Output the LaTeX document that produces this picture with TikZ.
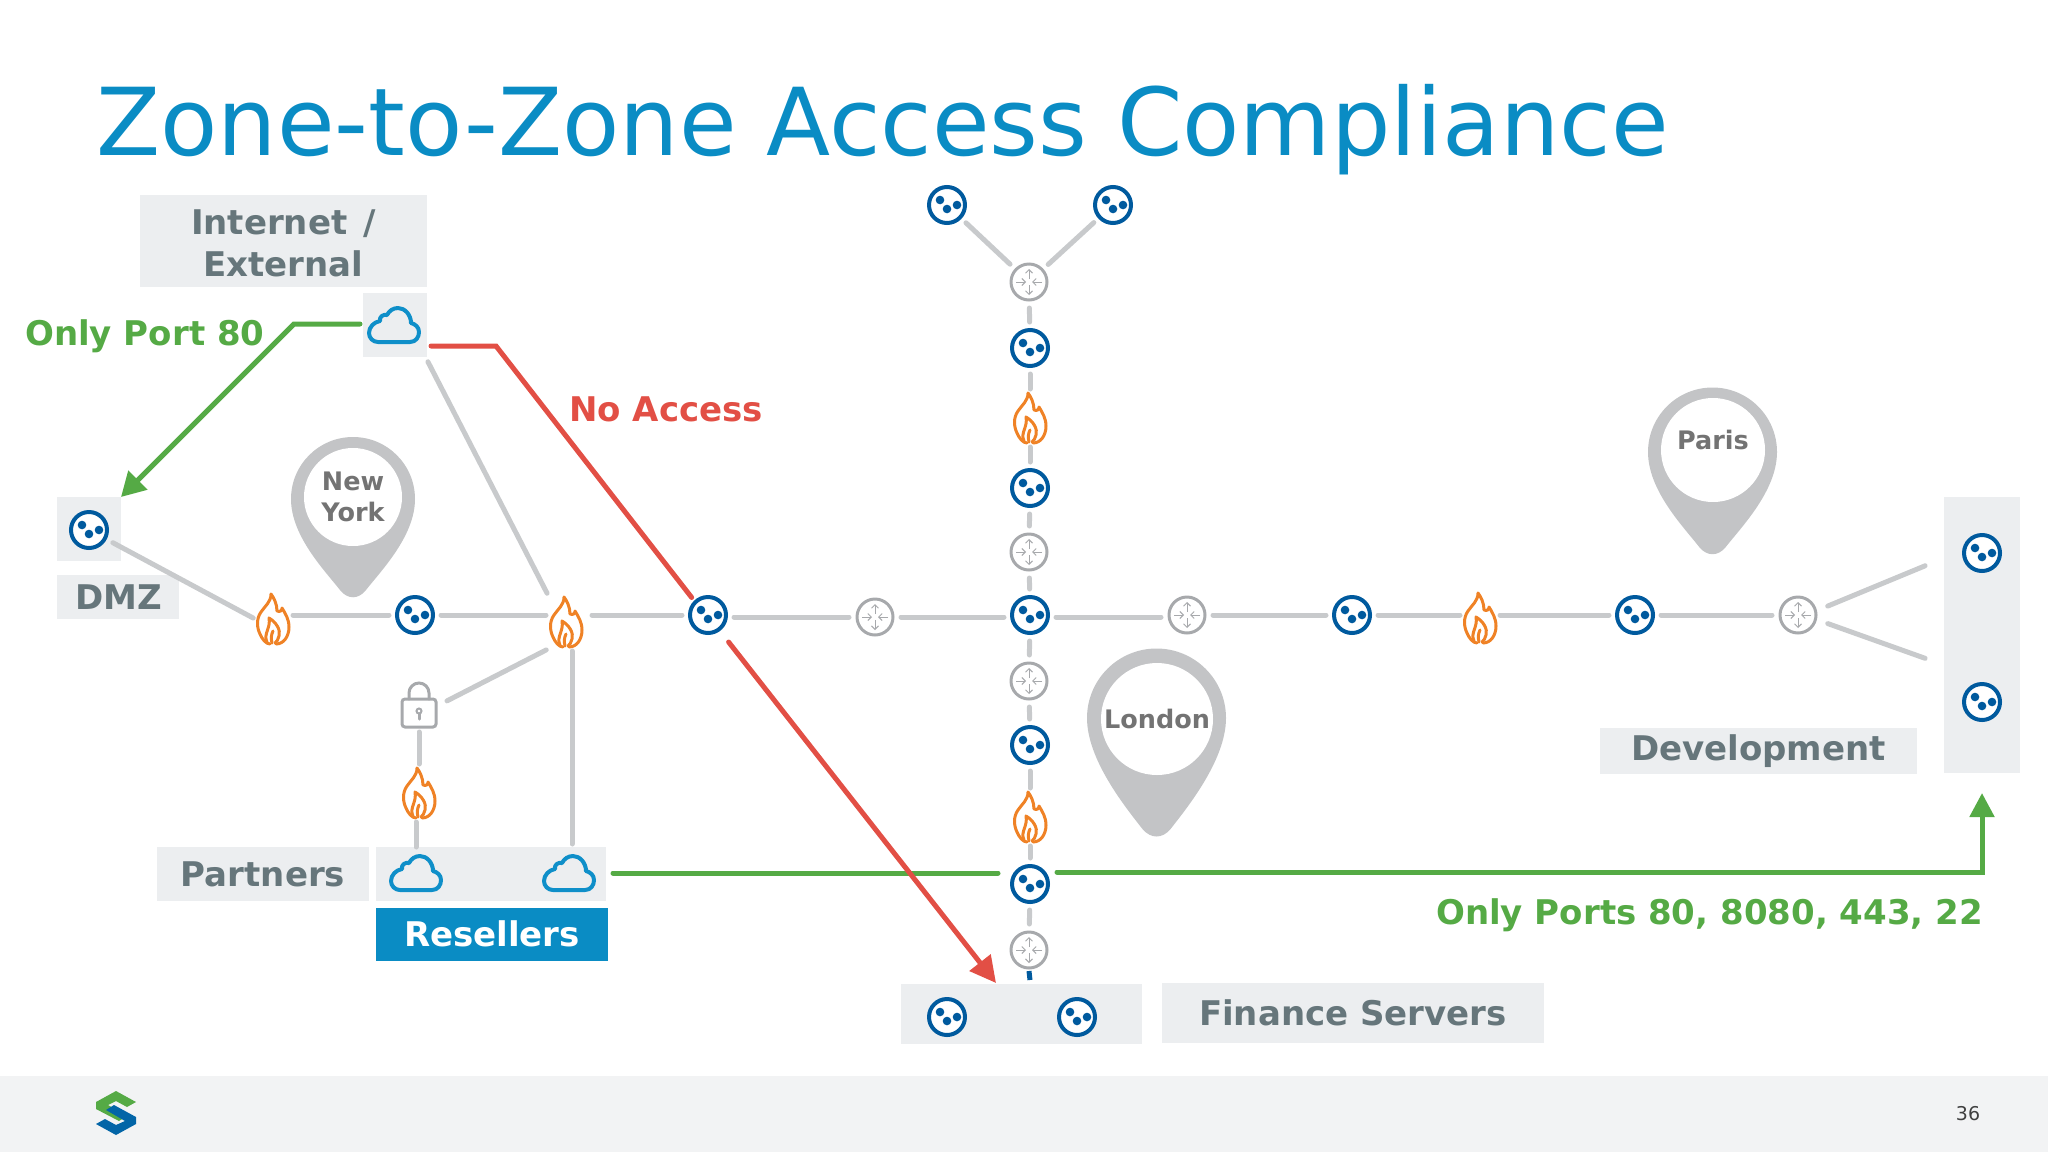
\documentclass[tikz,border=0pt]{standalone}
\usepackage{fontspec}
\setmainfont{DejaVu Sans}
\usetikzlibrary{arrows.meta}
\definecolor{titleblue}{HTML}{0A8CC4}
\definecolor{srvblue}{HTML}{005A9E}
\definecolor{netblue}{HTML}{0F8FC9}
\definecolor{fireorange}{HTML}{EF8226}
\definecolor{okgreen}{HTML}{55AA45}
\definecolor{badred}{HTML}{E24F45}
\definecolor{panelgray}{HTML}{ECEEF0}
\definecolor{textgray}{HTML}{66767B}
\definecolor{linegray}{HTML}{C8CACC}
\definecolor{icongray}{HTML}{A7A9AC}
\definecolor{pingray}{HTML}{C3C4C6}
\definecolor{footgray}{HTML}{F2F3F4}
\newcommand{\labelfont}{\fontsize{34}{41}\selectfont\bfseries}
\newcommand{\pinfont}{\fontsize{25.5}{31}\selectfont\bfseries}
% Pin body: x, y, radius, tip length
\newcommand{\pinbody}[4]{\fill[pingray, shift={(#1,#2)}, scale=#3] (-1,0) arc[start angle=180, end angle=360, radius=1]
  .. controls (1,0.6) and (0.45,#4-0.42) .. (0.2,#4-0.1) .. controls (0.08,#4+0.04) and (-0.08,#4+0.04) .. (-0.2,#4-0.1)
  .. controls (-0.45,#4-0.42) and (-1,0.6) .. (-1,0) -- cycle;}
\tikzstyle{server}=[circle, draw=srvblue, line width=4pt, fill=white, minimum size=36pt, inner sep=0pt, outer sep=6pt,
  path picture={\begin{scope}[shift={(path picture bounding box.center)}]
    \fill[srvblue] (-7,-5) circle (4.3) (0,4) circle (4.3) (10,0) circle (4.3);
  \end{scope}}]
\tikzstyle{router}=[circle, draw=icongray, line width=3pt, fill=white, minimum size=36pt, inner sep=0pt, outer sep=6pt,
  path picture={\begin{scope}[shift={(path picture bounding box.center)}, icongray, line width=1pt, -{Straight Barb[length=3.5pt,width=7pt]}]
    \draw (0,-3) -- (0,-13);
    \draw (0,3) -- (0,13);
    \draw (-13,0) -- (-3,0);
    \draw (13,0) -- (3,0);
  \end{scope}}]
\tikzstyle{flame}=[minimum width=36pt, minimum height=54pt, inner sep=0pt, outer sep=0pt,
  path picture={\begin{scope}[shift={(path picture bounding box.center)}, fireorange, line width=3pt, line join=round, line cap=round]
    \draw (3,25) .. controls (11,25) and (16,17) .. (16,8) .. controls (16,0) and (12,-6) .. (9,-11)
      .. controls (9,-8) and (7,-7) .. (4,-8) .. controls (4,-15) and (1,-21) .. (-2,-25)
      .. controls (-2,-17) and (-8,-13) .. (-12,-7) .. controls (-17,0) and (-16,9) .. (-13,15)
      .. controls (-11,20) and (-7,25) .. (-3,25);
    \draw (-6,23) .. controls (-10,15) and (-2,9) .. (-4,-1) .. controls (3,3) and (8,11) .. (6,17) .. controls (5,20) and (4,23) .. (2,24);
    \draw (-1,24) .. controls (-2,20) and (-2,16) .. (0,12);
  \end{scope}}]
\tikzstyle{inet}=[minimum width=54pt, minimum height=38pt, inner sep=0pt, outer sep=0pt,
  path picture={\begin{scope}[shift={(path picture bounding box.center)}, netblue, line width=4pt, line join=round]
    \draw (-16,17) -- (16,17) .. controls (22,17) and (25,12) .. (25,7) .. controls (25,2) and (21,-1) .. (17,-2)
      .. controls (17,-10) and (11,-17) .. (4,-17) .. controls (-1,-17) and (-5,-14) .. (-7,-10)
      .. controls (-11,-11) and (-15,-8) .. (-14,-4) .. controls (-20,-3) and (-25,2) .. (-25,8)
      .. controls (-25,13) and (-21,17) .. (-16,17) -- cycle;
  \end{scope}}]
\tikzstyle{padlock}=[minimum width=40pt, minimum height=50pt, inner sep=0pt, outer sep=0pt,
  path picture={\begin{scope}[shift={(path picture bounding box.center)}, icongray, line width=3pt, line cap=round]
    \draw[rounded corners=3pt] (-17,-6) rectangle (17,22);
    \draw (-10,-6) -- (-10,-12) arc[start angle=180, end angle=360, radius=10] -- (10,-6);
    \draw[line width=2pt] (0,6) circle (2.5);
    \draw (0,9) -- (0,14);
  \end{scope}}]
\tikzstyle{panel}=[fill=panelgray, inner sep=0pt, outer sep=0pt]
\tikzstyle{zone}=[panel, text=textgray, font=\labelfont, align=center]
\tikzstyle{pinlabel}=[circle, fill=white, text=black!55, font=\pinfont, align=center, inner sep=0pt]
\tikzstyle{link}=[draw=linegray, line width=5pt, line cap=round, shorten <=2pt, shorten >=2pt]
\tikzstyle{okpath}=[draw=okgreen, line width=5pt, line cap=round]
\tikzstyle{badpath}=[draw=badred, line width=5pt, line cap=round]
\begin{document}
\begin{tikzpicture}[x=1pt, y=-1pt]
\useasboundingbox (0,0) rectangle (2048,1152);
% Footer
  \fill[footgray] (0,1076) rectangle (2048,1152);
  \fill[okgreen] (116,1091) -- (136,1102) -- (127,1107) -- (116,1101) -- (108,1105) -- (127,1116) -- (119,1121) -- (96,1109) -- (96,1102) -- cycle;
  \fill[srvblue!80!netblue] (116,1135) -- (96,1124) -- (105,1119) -- (116,1125) -- (125,1121) -- (106,1110) -- (114,1105) -- (136,1117) -- (136,1124) -- cycle;
  \node[text=black!75, font=\fontsize{19}{22}\selectfont] (page) at (1968,1114) {36};
% Title
  \node[anchor=base west, text=titleblue, font=\fontsize{93.7}{100}\selectfont, inner sep=0pt] (title) at (96,155) {Zone-to-Zone Access Compliance};
% Panels
  \node[zone, minimum width=287pt, minimum height=92pt] (internet) at (283.5,241) {\rule{0pt}{30pt}Internet\hspace{16pt}/\\[1pt]External};
  \node[panel, minimum width=64pt, minimum height=64pt] (netbox) at (395,325) {};
  \node[panel, minimum width=64pt, minimum height=64pt] (dmzbox) at (89,529) {};
  \node[zone, minimum width=122pt, minimum height=44pt] (dmz) at (118,597) {\hspace{2pt}DMZ};
  \node[zone, minimum width=212pt, minimum height=54pt] (partners) at (263,874) {\raisebox{-1pt}{Partners}};
  \node[panel, minimum width=230pt, minimum height=54pt] (resbox) at (491,874) {};
  \node[fill=titleblue, text=white, font=\labelfont, minimum width=232pt, minimum height=53pt, inner sep=0pt] (resellers) at (492,934) {Resellers};
  \node[panel, minimum width=241pt, minimum height=60pt] (finbox) at (1021.5,1014) {};
  \node[zone, minimum width=382pt, minimum height=60pt] (finance) at (1353,1013) {Finance Servers};
  \node[zone, minimum width=317pt, minimum height=46pt] (development) at (1758.5,751) {\raisebox{-2pt}{Development}};
  \node[panel, minimum width=76pt, minimum height=276pt] (devbox) at (1982,635) {};
% Pins
  \pinbody{353}{499}{62}{1.58}
  \pinbody{1156.5}{718}{69.5}{1.7}
  \pinbody{1712.5}{452}{64.5}{1.58}
  \node[pinlabel, minimum size=98pt] (newyork) at (353,497) {New\\York};
  \node[pinlabel, minimum size=112pt] (london) at (1157,719) {\raisebox{1pt}{London}};
  \node[pinlabel, minimum size=104pt] (paris) at (1713,450) {\raisebox{1pt}[0pt][0pt]{Paris}};
% Horizontal row
  \node[server] (sdmz) at (89,530) {};
  \node[flame] (fw1) at (273,619) {};
  \node[server] (s1) at (415,615) {};
  \node[flame] (fw2) at (566,622) {};
  \node[server] (s2) at (708,615) {};
  \node[router] (r1) at (875,617) {};
  \node[server] (core) at (1030,615) {};
  \node[router] (r2) at (1187,615) {};
  \node[server] (s3) at (1352,615) {};
  \node[flame] (fw3) at (1480,618) {};
  \node[server] (s4) at (1635,615) {};
  \node[router] (r3) at (1798,615) {};
  \node[server] (sdev1) at (1982,553) {};
  \node[server] (sdev2) at (1982,702) {};
% Vertical column
  \node[server] (stop1) at (947,205) {};
  \node[server] (stop2) at (1113,205) {};
  \node[router] (rtop) at (1029,282) {};
  \node[server] (v1) at (1030,348) {};
  \node[flame] (fw4) at (1030,418) {};
  \node[server] (v2) at (1030,488) {};
  \node[router] (r4) at (1029,552) {};
  \node[router] (r5) at (1029,681) {};
  \node[server] (v3) at (1030,745) {};
  \node[flame] (fw5) at (1030,817) {};
  \node[server] (v4) at (1030,884) {};
  \node[router] (r6) at (1029,950) {};
  \node[server] (fin1) at (947,1017) {};
  \node[server] (fin2) at (1077,1017) {};
% Partners and resellers
  \node[padlock] (lock) at (419,705) {};
  \node[flame] (fw6) at (419,793) {};
  \node[inet] (net) at (394,325) {};
  \node[inet] (cloud1) at (416,873) {};
  \node[inet] (cloud2) at (569,873) {};
% Free ends
  \coordinate (dev1end) at (1927,565);
  \coordinate (dev2end) at (1927,659);
  \coordinate (resend) at (572,846);
  \coordinate (stub) at (1030,980);
  \coordinate (greenbend) at (294,324);
  \coordinate (redbend) at (496,346);
  \coordinate (redtip) at (996,983);
  \coordinate (greenstart) at (613,873);
  \coordinate (greenturn) at (1982,872);
  \coordinate (greentip) at (1982,793);
  \coordinate (lowleft) at (998,873);
  \coordinate (lowright) at (1057,872);
% Links
  \draw[link, shorten <=3pt, shorten >=2pt] (sdmz.-28) -- (fw1.west);
  \draw[link] (fw1.east |- s1) -- (s1);
  \draw[link] (s1) -- (fw2.west |- s1);
  \draw[link, shorten <=8pt] (fw2.east |- s1) -- (s2);
  \draw[link] (s2.east |- r1) -- (r1);
  \draw[link] (r1) -- (core.west |- r1);
  \draw[link] (core.east |- r1) -- (r2.west |- r1);
  \draw[link] (r2) -- (s3);
  \draw[link] (s3) -- (fw3.west |- s3);
  \draw[link] (fw3.east |- s3) -- (s4);
  \draw[link] (s4) -- (r3);
  \draw[link, shorten <=7pt] (r3.15) -- (dev1end);
  \draw[link, shorten <=7pt] (r3.-15) -- (dev2end);
  \draw[link] (stop1) -- (rtop);
  \draw[link] (stop2) -- (rtop);
  \draw[link] (rtop) -- (v1);
  \draw[link] (v1) -- (fw4);
  \draw[link] (fw4) -- (v2);
  \draw[link] (v2) -- (r4);
  \draw[link] (r4) -- (core);
  \draw[link] (core) -- (r5);
  \draw[link] (r5) -- (v3);
  \draw[link] (v3) -- (fw5);
  \draw[link] (fw5) -- (v4);
  \draw[link] (v4) -- (r6);
  \draw[draw=srvblue, line width=5pt] ([yshift=3pt]r6.south) -- (stub);
  \draw[link] ([yshift=-3pt]netbox.south east) -- (fw2.north west);
  \draw[link, shorten <=9pt] (lock.east) -- (fw2.south west);
  \draw[link] ([xshift=6pt]fw2.south) -- (resend);
  \draw[link] (lock.south) -- (fw6.north);
  \draw[link] ([xshift=-3pt]fw6.south) -- ([yshift=-2pt]cloud1.north |- resbox.north);
% Allowed and denied paths
  \draw[okpath, -{Triangle[length=24pt,width=26pt]}] ([yshift=1pt,xshift=-3pt]netbox.west) -- (greenbend) -- (dmzbox.north east);
  \draw[okpath] (greenstart) -- (lowleft);
  \draw[okpath, -{Triangle[length=24pt,width=24pt]}] (lowright) -- (greenturn) -- (greentip);
  \draw[badpath] ([xshift=4pt,yshift=11pt]netbox.south east) -- (redbend) -- (s2.133);
  \draw[badpath, shorten <=10pt, -{Triangle[length=26pt,width=26pt]}] (s2.-53) -- (redtip);
% Path labels
  \node[text=okgreen, font=\labelfont, anchor=base west, inner sep=0pt] (only80) at (25,345) {Only Port 80};
  \node[text=badred, font=\labelfont, anchor=base west, inner sep=0pt] (noaccess) at (569,421) {No Access};
  \node[text=okgreen, font=\labelfont, anchor=base east, inner sep=0pt] (onlyports) at (1983,924) {Only Ports 80, 8080, 443, 22};
\end{tikzpicture}
\end{document}
